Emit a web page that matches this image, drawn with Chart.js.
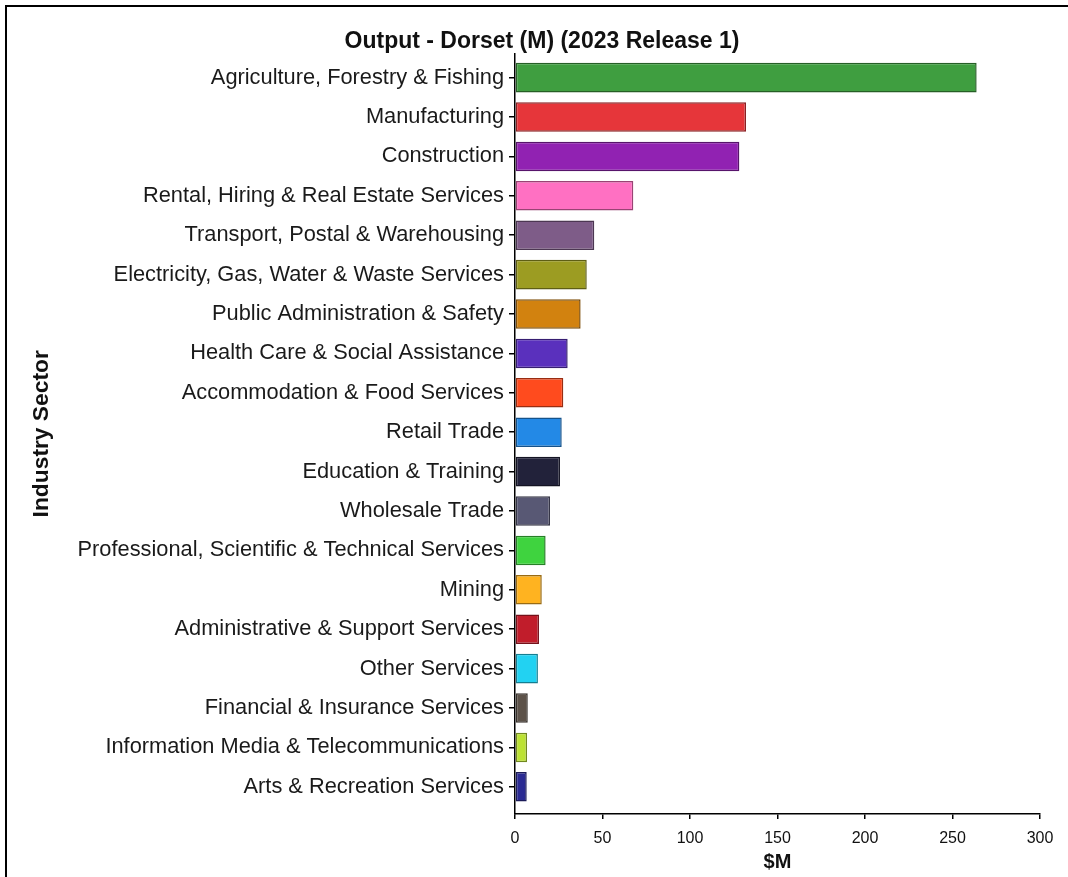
<!DOCTYPE html>
<html><head><meta charset="utf-8">
<script src="https://cdn.jsdelivr.net/npm/chart.js@4.4.0/dist/chart.umd.min.js"></script>
<style>
html,body{margin:0;padding:0;background:#fff;}
#wrap{position:relative;width:1068px;height:877px;overflow:hidden;background:#fff;}
#frame{position:absolute;left:5px;top:5px;right:-10px;bottom:-10px;border-left:2px solid #000;border-top:2px solid #000;pointer-events:none;}
canvas{position:absolute;left:0;top:0;}
</style></head><body>
<div id="wrap"><canvas id="c" width="1068" height="877"></canvas><div id="frame"></div></div>
<script>
const categories = [
  'Agriculture, Forestry & Fishing',
  'Manufacturing',
  'Construction',
  'Rental, Hiring & Real Estate Services',
  'Transport, Postal & Warehousing',
  'Electricity, Gas, Water & Waste Services',
  'Public Administration & Safety',
  'Health Care & Social Assistance',
  'Accommodation & Food Services',
  'Retail Trade',
  'Education & Training',
  'Wholesale Trade',
  'Professional, Scientific & Technical Services',
  'Mining',
  'Administrative & Support Services',
  'Other Services',
  'Financial & Insurance Services',
  'Information Media & Telecommunications',
  'Arts & Recreation Services'
];
const outputValues = [263.8, 132.0, 128.2, 67.6, 45.3, 41.0, 37.5, 30.1, 27.6, 26.7, 25.7, 20.0, 17.5, 15.3, 13.7, 13.1, 7.3, 6.9, 6.7];
const xTicks = [0, 50, 100, 150, 200, 250, 300];
const titleText = 'Output - Dorset (M) (2023 Release 1)';
const xAxisTitle = '$M';
const yAxisTitle = 'Industry Sector';

const barColors = ['#3f9e40','#e6363a','#9122b2','#ff70c2','#7e5c88','#9c9c22','#d2820f','#5a30bd','#ff4b1e','#2389e6','#22223a','#585874','#3fd33f','#ffb320','#c11d2b','#22d2f2','#5c5249','#bce233','#2b2b93'];
function darken(hex, f){
  const n = parseInt(hex.slice(1),16);
  const r = Math.round(((n>>16)&255)*f), g = Math.round(((n>>8)&255)*f), b = Math.round((n&255)*f);
  return 'rgb('+r+','+g+','+b+')';
}
const FONT = "'Liberation Sans', Arial, sans-serif";

new Chart(document.getElementById('c'), {
  type: 'bar',
  data: {
    labels: categories,
    datasets: [{
      data: outputValues,
      backgroundColor: barColors,
      borderColor: barColors.map(c => darken(c, 0.6)),
      borderWidth: 1.5,
      borderSkipped: false,
      barPercentage: 0.75,
      categoryPercentage: 1.0
    }]
  },
  options: {
    indexAxis: 'y',
    responsive: false,
    animation: false,
    devicePixelRatio: 1,
    layout: { padding: { left: 44, right: 28, top: 0, bottom: 0 } },
    plugins: {
      legend: { display: false },
      tooltip: { enabled: false },
      title: {
        display: true,
        text: titleText,
        color: '#111',
        font: { family: FONT, size: 23, weight: 'bold' },
        padding: { top: 28, bottom: -2 }
      }
    },
    scales: {
      x: {
        type: 'linear',
        min: 0, max: 300,
        afterBuildTicks: s => { s.ticks = xTicks.map(v => ({ value: v })); },
        afterFit: s => { s.height = 63; },
        grid: { display: true, drawOnChartArea: false, drawTicks: true, tickLength: 5, color: '#000', lineWidth: 1.5 },
        border: { display: true, color: '#000', width: 1.5 },
        ticks: { color: '#111', padding: 10, font: { family: FONT, size: 16 } },
        title: { display: true, text: xAxisTitle, color: '#111', font: { family: FONT, size: 20, weight: 'bold' }, padding: { top: 0, bottom: 3 } }
      },
      y: {
        type: 'category',
        offset: true,
        afterBuildTicks: s => { s._startValue = -0.61; s._valueRange = 19.3; },
        afterFit: s => { s.width = 471; },
        grid: { display: true, offset: false, drawOnChartArea: false, drawTicks: true, tickLength: 6, color: '#000', lineWidth: 1.5 },
        border: { display: true, color: '#000', width: 1.5 },
        ticks: { color: '#1a1a1a', padding: 5, autoSkip: false, font: { family: FONT, size: 21.8 } },
        title: { display: true, text: yAxisTitle, color: '#111', font: { family: FONT, size: 22.8, weight: 'bold' }, padding: { top: -16, bottom: 0 } }
      }
    }
  }
});
</script>
</body></html>
